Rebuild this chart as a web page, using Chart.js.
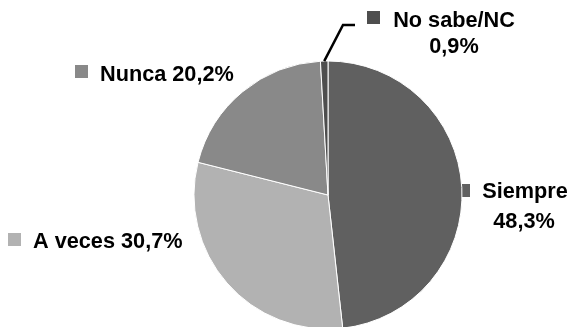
<!DOCTYPE html>
<html>
<head>
<meta charset="utf-8">
<script src="https://cdn.jsdelivr.net/npm/chart.js@4/dist/chart.umd.min.js"></script>
<style>
  html, body { margin: 0; padding: 0; background: #fff; overflow: hidden; }
  #wrap { position: relative; width: 570px; height: 327px; }
</style>
</head>
<body>
<div id="wrap"><canvas id="pieChart" width="570" height="327"></canvas></div>
<script>
const categories = ['Siempre', 'A veces', 'Nunca', 'No sabe/NC'];
const percentages = [48.3, 30.7, 20.2, 0.9];
const sliceColors = ['#606060', '#b2b2b2', '#898989', '#4e4e4e'];

function fmt(v) {
    return v.toFixed(1).replace('.', ',') + '%';
}

// label boxes: square marker + text lines, placed around the pie
const labelLayout = [
    { square: [457, 184], lines: [[categories[0], 525, 198], [fmt(percentages[0]), 524, 228]], align: 'center' },
    { square: [8, 233], lines: [[categories[1] + ' ' + fmt(percentages[1]), 33, 248]], align: 'left' },
    { square: [75, 65], lines: [[categories[2] + ' ' + fmt(percentages[2]), 100, 81]], align: 'left' },
    { square: [367, 11], lines: [[categories[3], 454, 27], [fmt(percentages[3]), 454, 53]], align: 'center', leader: [[343, 25], [355, 25]] }
];

const labelPlugin = {
    id: 'pieLabels',
    beforeDatasetsDraw(chart) {
        const ctx = chart.ctx;
        ctx.save();
        labelLayout.forEach(function (lab, i) {
            ctx.fillStyle = sliceColors[i];
            ctx.fillRect(lab.square[0], lab.square[1], 13, 13);
        });
        ctx.restore();
    },
    afterDatasetsDraw(chart) {
        const ctx = chart.ctx;
        const arcs = chart.getDatasetMeta(0).data;
        ctx.save();
        ctx.font = 'bold 21.7px "Liberation Sans", Arial, sans-serif';
        ctx.fillStyle = '#000';
        ctx.textBaseline = 'alphabetic';
        labelLayout.forEach(function (lab, i) {
            ctx.textAlign = lab.align;
            lab.lines.forEach(function (ln) {
                ctx.fillText(ln[0], ln[1], ln[2]);
            });
            if (lab.leader) {
                const a = arcs[i];
                const mid = (a.startAngle + a.endAngle) / 2;
                const sx = a.x + Math.cos(mid) * a.outerRadius;
                const sy = a.y + Math.sin(mid) * a.outerRadius;
                ctx.strokeStyle = '#000';
                ctx.lineWidth = 2.5;
                ctx.beginPath();
                ctx.moveTo(sx, sy);
                lab.leader.forEach(function (p) { ctx.lineTo(p[0], p[1]); });
                ctx.stroke();
            }
        });
        ctx.restore();
    }
};

const ctx = document.getElementById('pieChart').getContext('2d');
new Chart(ctx, {
    type: 'pie',
    data: {
        labels: categories,
        datasets: [{
            data: percentages,
            backgroundColor: sliceColors,
            borderColor: '#ffffff',
            borderWidth: 1,
            clip: false
        }]
    },
    options: {
        responsive: false,
        animation: false,
        radius: 134,
        layout: { padding: { left: 194, right: 108, top: 63, bottom: 0 } },
        plugins: {
            legend: { display: false },
            tooltip: { enabled: false }
        }
    },
    plugins: [labelPlugin]
});
</script>
</body>
</html>
